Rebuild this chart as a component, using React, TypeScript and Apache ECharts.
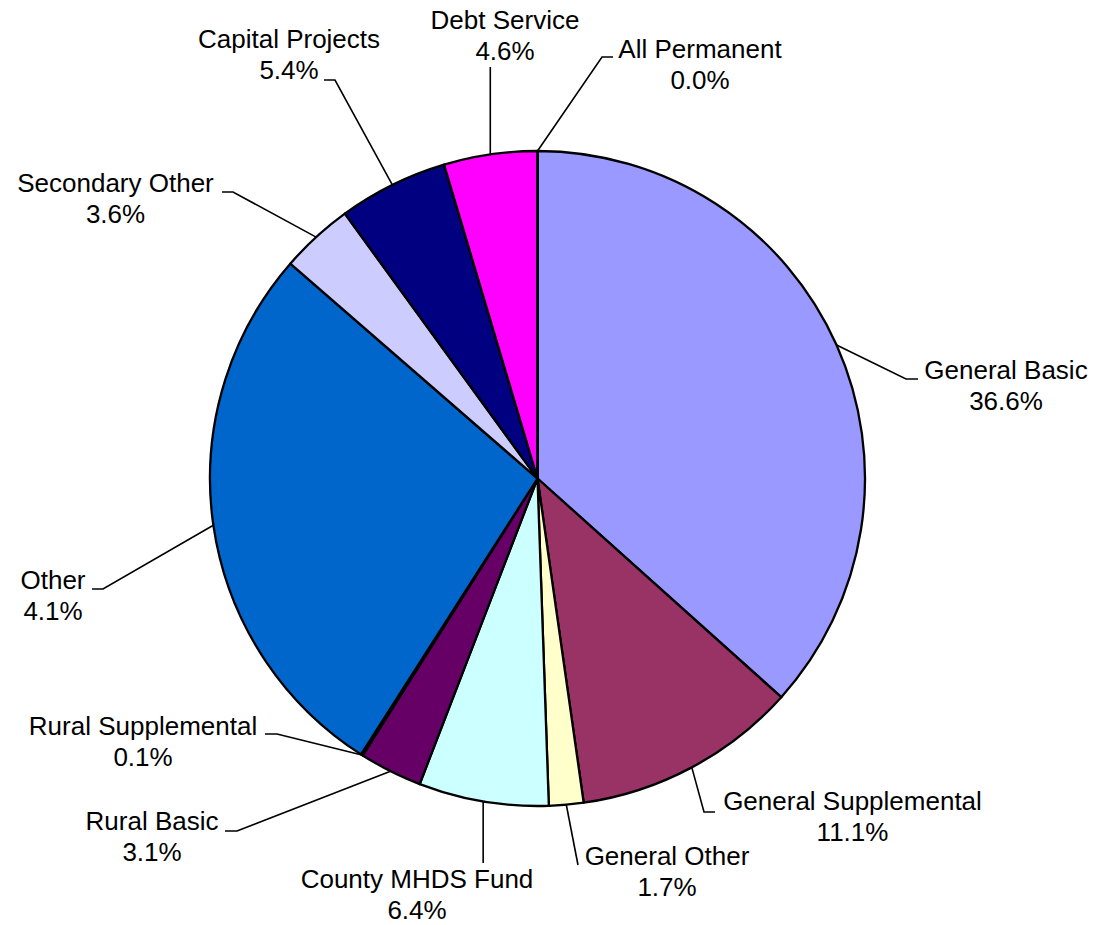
import React, { useEffect, useRef } from "react";
import * as echarts from "echarts";

const categories = [
  "General Basic",
  "General Supplemental",
  "General Other",
  "County MHDS Fund",
  "Rural Basic",
  "Rural Supplemental",
  "Other",
  "Secondary Other",
  "Capital Projects",
  "Debt Service",
  "All Permanent",
];
// slice sizes as drawn (percent of the circle)
const sliceValues = [36.6, 11.1, 1.7, 6.4, 3.1, 0.1, 27.3, 3.6, 5.4, 4.6, 0.0];
// percent labels as printed on the chart
const pctLabels = ["36.6%", "11.1%", "1.7%", "6.4%", "3.1%", "0.1%", "4.1%", "3.6%", "5.4%", "4.6%", "0.0%"];
const colors = [
  "#9999FF", "#993366", "#FFFFCC", "#CCFFFF", "#660066", "#FF8080",
  "#0066CC", "#CCCCFF", "#000080", "#FF00FF", "#FFFF00",
];

// label placement (text block centre) and leader-line bends, in pixels
// (null x = keep the leader vertical above/below the slice midpoint)
const labelPos: number[][] = [
  [1006, 385.5],
  [852.5, 816.5],
  [667, 871.5],
  [417, 894.5],
  [152, 836.5],
  [143, 741.5],
  [53, 595.5],
  [115.5, 198.5],
  [289, 54.5],
  [505, 35.5],
  [700, 64.5],
];
const leaderBends: (number | null)[][][] = [
  [[906, 379], [918, 379]],
  [[704, 812], [715, 812]],
  [[578, 865], [578, 865]],
  [[null, 863], [null, 863]],
  [[237, 831], [225, 831]],
  [[277, 734], [265, 734]],
  [[103, 589], [92, 589]],
  [[233, 192], [222, 192]],
  [[335, 80], [324, 80]],
  [[null, 67], [null, 67]],
  [[602, 57], [613, 57]],
];

export default function App() {
  const ref = useRef<HTMLDivElement>(null);
  useEffect(() => {
    if (!ref.current) return;
    const chart = echarts.init(ref.current, undefined, { renderer: "svg" });
    chart.setOption({
      animation: false,
      backgroundColor: "#ffffff",
      series: [
        {
          type: "pie",
          center: [537.5, 478.5],
          radius: 327.5,
          startAngle: 90,
          clockwise: true,
          avoidLabelOverlap: false,
          emphasis: { disabled: true },
          itemStyle: { borderColor: "#000000", borderWidth: 2.3 },
          label: {
            show: true,
            position: "outside",
            overflow: "none",
            fontFamily: "'Liberation Sans', Arial, sans-serif",
            fontSize: 26,
            lineHeight: 31,
            color: "#000000",
            align: "center",
            formatter: (p: any) => `${categories[p.dataIndex]}\n${pctLabels[p.dataIndex]}`,
          },
          labelLine: {
            show: true,
            length: 10,
            length2: 10,
            smooth: false,
            lineStyle: { color: "#000000", width: 1.6 },
          },
          labelLayout: (params: any) => {
            const i = params.dataIndex;
            const out: any = {
              x: labelPos[i][0],
              y: labelPos[i][1],
              align: "center",
              verticalAlign: "middle",
            };
            const pts = params.labelLinePoints;
            if (pts && pts.length) {
              const p0 = pts[0];
              const b = leaderBends[i].map((q) => [q[0] == null ? p0[0] : q[0], q[1]]);
              out.labelLinePoints = [p0, b[0], b[1]];
            }
            return out;
          },
          data: categories.map((name, i) => ({
            name,
            value: sliceValues[i],
            itemStyle: { color: colors[i] },
          })),
        },
      ],
    });
    return () => chart.dispose();
  }, []);
  return (
    <div
      ref={ref}
      style={{ position: "fixed", left: 0, top: 0, width: 1096, height: 925, background: "#fff" }}
    />
  );
}
